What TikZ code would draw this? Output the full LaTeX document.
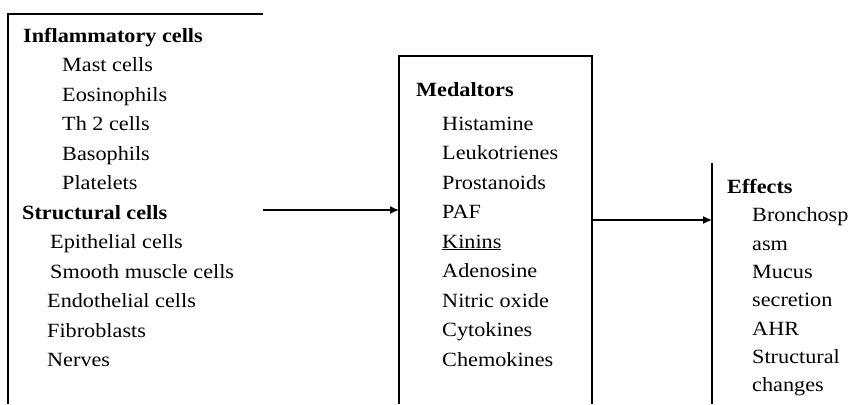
\documentclass[tikz,border=0pt]{standalone}
\usepackage{fontspec}
\setmainfont{Liberation Serif}[FakeStretch=1.1]
\usetikzlibrary{arrows.meta}
\begin{document}
\begin{tikzpicture}[x=1pt,y=-1pt,
  frame/.style={line width=1.4pt,black},
  conn/.style={line width=1.3pt,-{Latex[length=9pt,width=8pt]}},
  txt/.style={anchor=base west,inner sep=0pt,font=\fontsize{20.2}{24}\selectfont},
  head/.style={txt,font=\fontsize{20.2}{24}\selectfont\bfseries}]
\useasboundingbox (0,0) rectangle (866,404);
% frames
\draw[frame] (8,404) -- (8,14) -- (263,14);
\draw[frame] (399,404) -- (399,56) -- (592,56) -- (592,404);
\draw[frame] (712,163) -- (712,404);
% connector end points
\coordinate (c1s) at (263,210);
\coordinate (c1e) at (399,210);
\coordinate (c2s) at (592,220);
\coordinate (c2e) at (712,220);
\draw[conn] (c1s) -- (c1e);
\draw[conn] (c2s) -- (c2e);
% left column
\node[head] (infl) at (23,42) {Inflammatory cells};
\node[txt] (mast) at (62,71.5) {Mast cells};
\node[txt] (eos) at (62,101) {Eosinophils};
\node[txt] (th2) at (62,130.5) {Th 2 cells};
\node[txt] (baso) at (62,160) {Basophils};
\node[txt] (plat) at (62,189.5) {Platelets};
\node[head] (struct) at (22,219) {Structural cells};
\node[txt] (epi) at (50,248.5) {Epithelial cells};
\node[txt] (smooth) at (50,278) {Smooth muscle cells};
\node[txt] (endo) at (47,307.5) {Endothelial cells};
\node[txt] (fibro) at (47,337) {Fibroblasts};
\node[txt] (nerves) at (47,366.5) {Nerves};
% middle column
\node[head] (med) at (416,96) {Medaltors};
\node[txt] (hist) at (442,130) {Histamine};
\node[txt] (leuk) at (442,159.5) {Leukotrienes};
\node[txt] (pros) at (442,189) {Prostanoids};
\node[txt] (paf) at (442,218.5) {PAF};
\node[txt] (kin) at (442,248) {\underline{Kinins}};
\node[txt] (aden) at (442,277.5) {Adenosine};
\node[txt] (nitric) at (442,307) {Nitric oxide};
\node[txt] (cyto) at (442,336.5) {Cytokines};
\node[txt] (chemo) at (442,366) {Chemokines};
% right column
\node[head] (eff) at (727,193) {Effects};
\node[txt] (br1) at (752,221.5) {Bronchosp};
\node[txt] (br2) at (752,250) {asm};
\node[txt] (mu1) at (752,278) {Mucus};
\node[txt] (mu2) at (752,306.5) {secretion};
\node[txt] (ahr) at (752,335) {AHR};
\node[txt] (st1) at (752,363) {Structural};
\node[txt] (st2) at (752,391) {changes};
\end{tikzpicture}
\end{document}
